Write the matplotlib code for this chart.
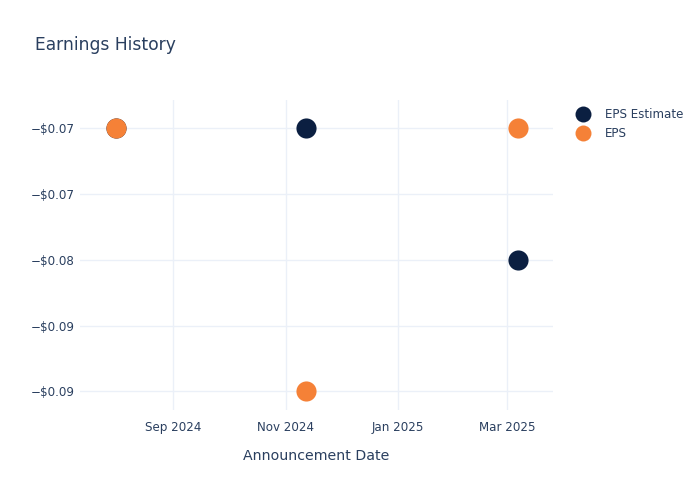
import matplotlib
matplotlib.use("Agg")
import matplotlib.pyplot as plt
from matplotlib.lines import Line2D
import datetime as dt

dates = ["2024-08-01", "2024-11-12", "2025-03-07"]
eps_estimate = [-0.07, -0.07, -0.08]
eps_actual = [-0.07, -0.09, -0.07]
y_ticks = [-0.07, -0.075, -0.08, -0.085, -0.09]
y_tick_labels = ["\u2212$0.07", "\u2212$0.07", "\u2212$0.08", "\u2212$0.09", "\u2212$0.09"]
x_ticks = ["2024-09-01", "2024-11-01", "2025-01-01", "2025-03-01"]
x_tick_labels = ["Sep 2024", "Nov 2024", "Jan 2025", "Mar 2025"]

TXT = "#2a3f5f"
NAVY = "#0b1f41"
ORANGE = "#f58137"
GRID = "#ebf0f8"

plt.rcParams['font.family'] = ['DejaVu Sans']
fig = plt.figure(figsize=(7, 5), dpi=100)
ax = fig.add_axes([80/700, 90/500, 473/700, 310/500])

xd = [dt.datetime.fromisoformat(d) for d in dates]
ax.scatter(xd, eps_estimate, s=210, color=NAVY, zorder=3, linewidths=0)
ax.scatter(xd, eps_actual, s=210, color=ORANGE, zorder=4, linewidths=0)

ax.set_xlim(dt.datetime(2024, 7, 12, 12), dt.datetime(2025, 3, 26))
ax.set_ylim(-0.09142, -0.06785)
ax.set_yticks(y_ticks)
ax.set_yticklabels(y_tick_labels)
ax.set_xticks([dt.datetime.fromisoformat(d) for d in x_ticks])
ax.set_xticklabels(x_tick_labels)

ax.grid(True, color=GRID, linewidth=1, zorder=0)
ax.set_axisbelow(True)
for s in ax.spines.values():
    s.set_visible(False)
ax.tick_params(axis='both', length=0, colors=TXT, labelsize=8.6)
ax.tick_params(axis='x', pad=8)
ax.tick_params(axis='y', pad=4)

ax.set_xlabel("Announcement Date", color=TXT, fontsize=10.2, labelpad=11)
fig.text(35/700, 1 - 45/500, "Earnings History", color=TXT, fontsize=12.3,
         ha='left', va='center')

handles = [Line2D([], [], marker='o', linestyle='none', markersize=11.5,
                  markerfacecolor=NAVY, markeredgewidth=0, label="EPS Estimate"),
           Line2D([], [], marker='o', linestyle='none', markersize=11.5,
                  markerfacecolor=ORANGE, markeredgewidth=0, label="EPS")]
leg = fig.legend(handles=handles, loc='upper left', bbox_to_anchor=(570/700, 1 - 102/500),
                 frameon=False, fontsize=8.6, handletextpad=1.2, labelspacing=0.52,
                 borderpad=0, handlelength=1.2)
for t in leg.get_texts():
    t.set_color(TXT)

fig.savefig("out.png", dpi=100)
